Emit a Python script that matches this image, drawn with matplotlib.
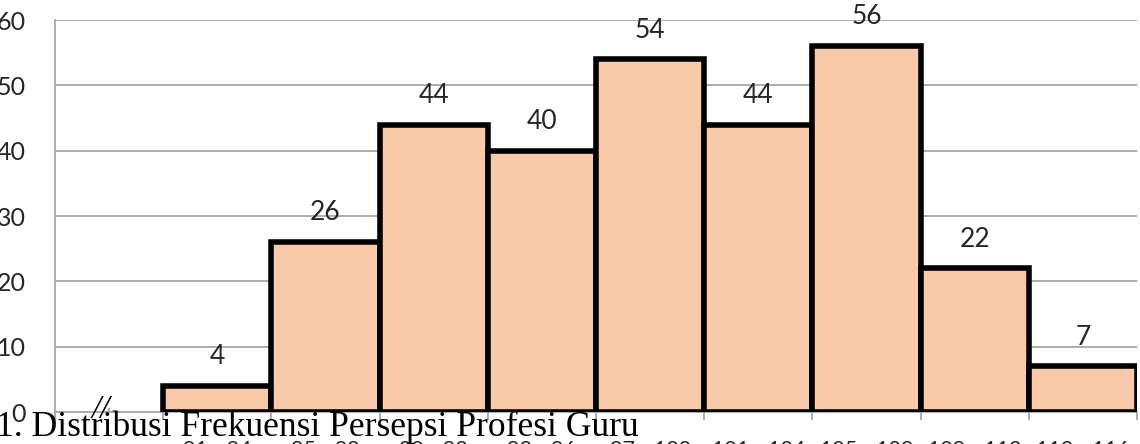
import matplotlib
matplotlib.use("Agg")
import matplotlib.pyplot as plt
import numpy as np

# data
kelas = ["", "81 - 84", "85 - 88", "89 - 92", "93 - 96", "97 - 100",
         "101 - 104", "105 - 108", "109 - 112", "113 - 116"]
frekuensi = [None, 4, 26, 44, 40, 54, 44, 56, 22, 7]
yticks = [0, 10, 20, 30, 40, 50, 60]
caption = "1. Distribusi Frekuensi Persepsi Profesi Guru"

fig = plt.figure(figsize=(11.4, 4.44), dpi=100)
ax = fig.add_axes([55 / 1140, 1 - 412 / 444, (1137 - 55) / 1140, (412 - 20) / 444])

x = np.arange(len(kelas)) + 0.5
vals = [v if v is not None else 0 for v in frekuensi]
bars = ax.bar(x[1:], vals[1:], width=1.0, color="#F8CAA9",
              edgecolor="black", linewidth=4, zorder=3)

for xi, v in zip(x[1:], vals[1:]):
    ax.annotate(str(v), (xi, v), xytext=(0, 21), textcoords="offset points",
                ha="center", va="center", fontsize=19, family="Lato",
                color="#262626")

ax.set_xlim(0, len(kelas))
ax.set_ylim(0, 60)
ax.set_yticks(yticks)
ax.set_yticklabels([str(t) for t in yticks], family="Lato", fontsize=18,
                   color="#262626")
ax.tick_params(axis="y", length=0, pad=21)
ax.yaxis.grid(True, color="#A6A6A6", linewidth=1.3, zorder=0)

ax.set_xticks(np.arange(len(kelas) + 1), minor=False)
ax.set_xticklabels([""] * (len(kelas) + 1))
ax.set_xticks(x, minor=True)
ax.set_xticklabels(kelas, minor=True, family="Lato", fontsize=15.5,
                   color="#262626")
ax.tick_params(axis="x", which="major", length=6, color="#A6A6A6", width=1.3)
ax.tick_params(axis="x", which="minor", length=3, direction="in",
               color="#A6A6A6", width=1.3, pad=20)

for s in ["top", "right"]:
    ax.spines[s].set_visible(False)
ax.spines["left"].set_color("#A6A6A6")
ax.spines["bottom"].set_color("#A6A6A6")
ax.spines["left"].set_linewidth(1.3)
ax.spines["bottom"].set_linewidth(1.3)

# axis break mark and overlapping caption from the document
fig.text(101 / 1140, 1 - 410 / 444, "//", fontsize=24, style="italic",
         family="Liberation Serif", ha="center", va="center")
fig.text(-4 / 1140, 1 - 436 / 444, caption, fontsize=25.6,
         family="Liberation Serif", ha="left", va="baseline")

fig.savefig("out.png", dpi=100)
